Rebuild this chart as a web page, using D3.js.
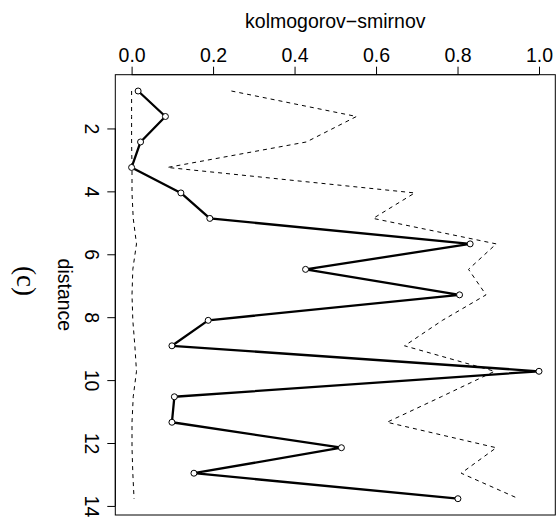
<!DOCTYPE html>
<html>
<head>
<meta charset="utf-8">
<script src="https://cdn.jsdelivr.net/npm/d3@7"></script>
<style>
html,body{margin:0;padding:0;background:#fff;}
svg{display:block;}
text{font-family:"Liberation Sans",Arial,sans-serif;fill:#000;}
</style>
</head>
<body>
<svg id="chart" width="560" height="523"></svg>
<script>
// distance values (vertical axis)
const distance = [0.81, 1.62, 2.43, 3.24, 4.05, 4.86, 5.67, 6.48, 7.29, 8.10, 8.91, 9.72, 10.53, 11.34, 12.15, 12.96, 13.77];
// Kolmogorov-Smirnov statistic (solid line with points)
const ksObserved = [0.016, 0.083, 0.022, 0.0, 0.121, 0.192, 0.831, 0.427, 0.805, 0.188, 0.099, 1.0, 0.105, 0.099, 0.515, 0.153, 0.801];
// upper envelope (dashed)
const ksUpper = [0.245, 0.552, 0.429, 0.088, 0.695, 0.593, 0.895, 0.827, 0.870, 0.763, 0.670, 0.891, 0.760, 0.627, 0.895, 0.809, 0.950];
// lower envelope (dashed)
const ksLower = [0.0, 0.0, 0.0, 0.001, 0.001, 0.004, 0.012, 0.003, 0.001, 0.003, 0.008, 0.012, 0.004, 0.001, 0.001, 0.003, 0.006];
// tick labels
const ksTicks = [0.0, 0.2, 0.4, 0.6, 0.8, 1.0];
const distTicks = [2, 4, 6, 8, 10, 12, 14];
const xTitle = "kolmogorov\u2212smirnov";
const yTitle = "distance";
const panelLabel = "(c)";

const svg = d3.select("#chart");
const box = {left: 115.3, right: 555.3, top: 74.7, bottom: 515};

function padded(ext){ const r = ext[1]-ext[0]; return [ext[0]-0.04*r, ext[1]+0.04*r]; }
const allKs = ksObserved.concat(ksUpper, ksLower);
const x = d3.scaleLinear().domain(padded(d3.extent(allKs))).range([box.left, box.right]);
const y = d3.scaleLinear().domain(padded(d3.extent(distance))).range([box.top, box.bottom]);

// box
svg.append("rect")
  .attr("x", box.left).attr("y", box.top)
  .attr("width", box.right-box.left).attr("height", box.bottom-box.top)
  .attr("fill", "none").attr("stroke", "#000").attr("stroke-width", 1);

// top axis
const topAxis = svg.append("g").attr("transform", `translate(0,${box.top})`)
  .call(d3.axisTop(x).tickValues(ksTicks).tickFormat(d3.format(".1f")).tickSizeInner(8).tickSizeOuter(0).tickPadding(5));
topAxis.select(".domain").attr("stroke", "#000").attr("d", `M${x(0)},0H${x(1)}`);
topAxis.selectAll(".tick line").attr("stroke", "#000");
topAxis.selectAll(".tick text").attr("font-size", 19.5).attr("font-family", "Liberation Sans, Arial, sans-serif").attr("fill", "#000");

// left axis
const leftAxis = svg.append("g").attr("transform", `translate(${box.left},0)`)
  .call(d3.axisLeft(y).tickValues(distTicks).tickFormat(d3.format("d")).tickSizeInner(8).tickSizeOuter(0));
leftAxis.select(".domain").attr("stroke", "#000").attr("d", `M0,${y(2)}V${y(14)}`);
leftAxis.selectAll(".tick line").attr("stroke", "#000");
leftAxis.selectAll(".tick text")
  .attr("font-size", 19.5).attr("font-family", "Liberation Sans, Arial, sans-serif").attr("fill", "#000")
  .attr("x", 0)
  .attr("text-anchor", "middle")
  .attr("transform", "translate(-23,0) rotate(90)")
  .attr("dy", "0.35em");

// titles
svg.append("text").attr("x", (box.left+box.right)/2).attr("y", 28)
  .attr("text-anchor", "middle").attr("font-size", 19.5).text(xTitle);
svg.append("text")
  .attr("transform", `translate(57.5,${(box.top+box.bottom)/2}) rotate(90)`)
  .attr("text-anchor", "middle").attr("font-size", 19.5).text(yTitle);
svg.append("text")
  .attr("transform", `translate(17,281) rotate(90)`)
  .attr("text-anchor", "middle").attr("font-size", 27)
  .style("font-family", "Liberation Serif, Times New Roman, serif").text(panelLabel);

const line = (vals) => d3.line().x((d,i)=>x(vals[i])).y((d,i)=>y(distance[i]))(distance);

const plot = svg.append("g");
plot.append("path").attr("d", line(ksUpper)).attr("fill", "none")
  .attr("stroke", "#000").attr("stroke-width", 1).attr("stroke-dasharray", "4,4");
plot.append("path").attr("d", line(ksLower)).attr("fill", "none")
  .attr("stroke", "#000").attr("stroke-width", 1).attr("stroke-dasharray", "4,4");
plot.append("path").attr("d", line(ksObserved)).attr("fill", "none")
  .attr("stroke", "#000").attr("stroke-width", 2.3).attr("stroke-linejoin", "round");
plot.selectAll("circle.pt").data(distance).enter().append("circle")
  .attr("class", "pt")
  .attr("cx", (d,i)=>x(ksObserved[i])).attr("cy", d=>y(d)).attr("r", 3)
  .attr("fill", "#fff").attr("stroke", "#000").attr("stroke-width", 1);
</script>
</body>
</html>
